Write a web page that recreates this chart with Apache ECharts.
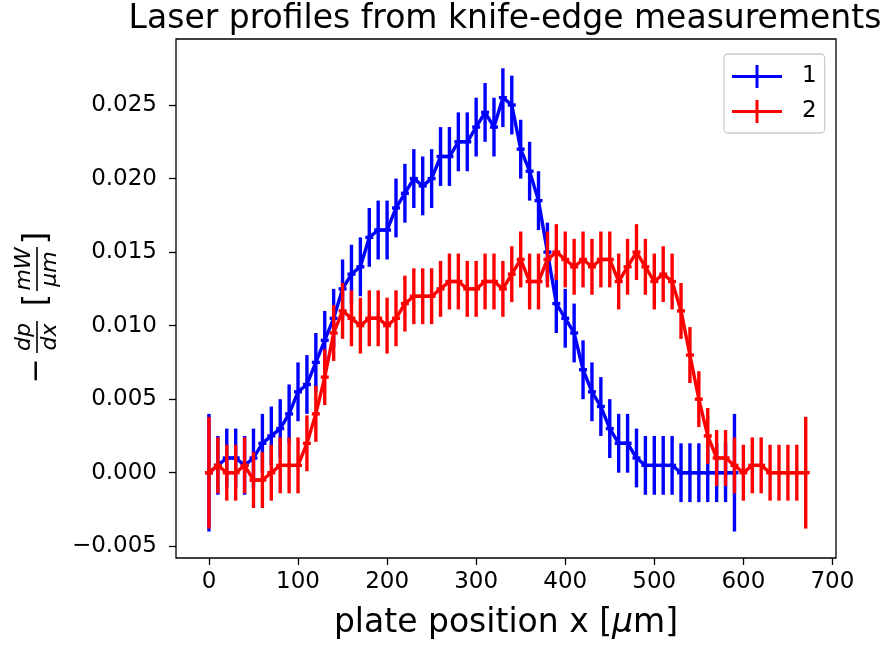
<!DOCTYPE html>
<html>
<head>
<meta charset="utf-8">
<script src="https://cdn.jsdelivr.net/npm/echarts@6/dist/echarts.min.js"></script>
<style>
html,body{margin:0;padding:0;background:#fff;}
#chart{width:887px;height:645px;}
</style>
</head>
<body>
<div id="chart"></div>
<script>
// ---- data ----
const xBlue = [0,10,20,30,40,50,60,70,80,90,100,110,120,130,140,150,160,170,180,190,200,210,220,230,240,250,260,270,280,290,300,310,320,330,340,350,360,370,380,390,400,410,420,430,440,450,460,470,480,490,500,510,520,530,540,550,560,570,580,590];
const yBlue = [0,0.0005,0.001,0.001,0.0005,0.001,0.002,0.0025,0.003,0.004,
  0.0055,0.006,0.0075,0.009,0.0105,0.0125,0.0135,0.014,0.016,0.0165,
  0.0165,0.018,0.019,0.020,0.0195,0.020,0.0215,0.0215,0.0225,0.0225,
  0.0235,0.0245,0.0235,0.0255,0.025,0.022,0.0205,0.0185,0.015,0.0115,
  0.0105,0.0095,0.007,0.0055,0.0045,0.003,0.002,0.002,0.001,0.0005,
  0.0005,0.0005,0.0005,0,0,0,0,0,0,0];
const eBlue = [0.004,0.002,0.002,0.002,0.002,0.002,0.002,0.002,0.002,0.002,
  0.002,0.002,0.002,0.002,0.002,0.002,0.002,0.002,0.002,0.002,
  0.002,0.002,0.002,0.002,0.002,0.002,0.002,0.002,0.002,0.002,
  0.002,0.002,0.002,0.002,0.002,0.002,0.002,0.002,0.002,0.002,
  0.002,0.002,0.002,0.002,0.002,0.002,0.002,0.002,0.002,0.002,
  0.002,0.002,0.002,0.002,0.002,0.002,0.002,0.002,0.002,0.004];
const xRed = [0,10,20,30,40,50,60,70,80,90,100,110,120,130,140,150,160,170,180,190,200,210,220,230,240,250,260,270,280,290,300,310,320,330,340,350,360,370,380,390,400,410,420,430,440,450,460,470,480,490,500,510,520,530,540,550,560,570,580,590,600,610,620,630,640,650,660,670];
const yRed = [0,0.0005,0,0,0.0005,-0.0005,-0.0005,0,0.0005,0.0005,
  0.0005,0.002,0.004,0.0065,0.0095,0.011,0.0105,0.010,0.0105,0.0105,
  0.010,0.0105,0.0115,0.012,0.012,0.012,0.0125,0.013,0.013,0.0125,
  0.0125,0.013,0.013,0.0125,0.0135,0.0145,0.013,0.013,0.0145,0.015,
  0.0145,0.014,0.0145,0.014,0.0145,0.0145,0.013,0.014,0.015,0.014,
  0.013,0.0135,0.013,0.011,0.008,0.005,0.0025,0.001,0.001,0.0005,
  0,0.0005,0.0005,0,0,0,0,0];
const eRed = [0.0038,0.0019,0.0019,0.0019,0.0019,0.0019,0.0019,0.0019,0.0019,0.0019,
  0.0019,0.0019,0.0019,0.0019,0.0019,0.0019,0.0019,0.0019,0.0019,0.0019,
  0.0019,0.0019,0.0019,0.0019,0.0019,0.0019,0.0019,0.0019,0.0019,0.0019,
  0.0019,0.0019,0.0019,0.0019,0.0019,0.0019,0.0019,0.0019,0.0019,0.0019,
  0.0019,0.0019,0.0019,0.0019,0.0019,0.0019,0.0019,0.0019,0.0019,0.0019,
  0.0019,0.0019,0.0019,0.0019,0.0019,0.0019,0.0019,0.0019,0.0019,0.0019,
  0.0019,0.0019,0.0019,0.0019,0.0019,0.0019,0.0019,0.0038];
const xTicks = [0,100,200,300,400,500,600,700];
const yTicks = [-0.005,0,0.005,0.010,0.015,0.020,0.025];
const seriesNames = ['1','2'];
const titleText = 'Laser profiles from knife-edge measurements';

// ---- build ----
const FONT = 'DejaVu Sans';
const BLUE = '#0000ff', RED = '#ff0000';
const LW = 3.4;
function pts(xs, ys){ return xs.map((x,i)=>[x, ys[i]]); }
function errPts(xs, ys, es){ return xs.map((x,i)=>[x, ys[i], es[i]]); }
function errRenderer(color){
  return function(params, api){
    const x = api.value(0), y = api.value(1), e = api.value(2);
    const t = api.coord([x, y+e]), b = api.coord([x, y-e]), c = api.coord([x, y]);
    return {type:'group', children:[
      {type:'line', shape:{x1:t[0],y1:t[1],x2:b[0],y2:b[1]}, style:{stroke:color, lineWidth:LW}},
      {type:'line', shape:{x1:c[0]-4,y1:c[1],x2:c[0]+4,y2:c[1]}, style:{stroke:color, lineWidth:LW}}
    ]};
  };
}
const plusIcon = 'path://M0,10 L50,10 L50,13 L0,13 Z M23.5,0 L26.5,0 L26.5,23 L23.5,23 Z';

const chart = echarts.init(document.getElementById('chart'), null, {renderer:'canvas'});
const option = {
  animation:false,
  backgroundColor:'#ffffff',
  title:{text:titleText, left:500, textAlign:'center', top:-2,
    textStyle:{fontFamily:FONT, fontSize:33, fontWeight:'normal', color:'#000'}},
  grid:{left:176, right:51, top:39, bottom:83, show:true, borderColor:'#000', borderWidth:1.3, backgroundColor:'transparent'},
  legend:{orient:'vertical', left:724, top:54, padding:[11,8,10,8], itemGap:12,
    itemWidth:50, itemHeight:23,
    backgroundColor:'rgba(255,255,255,0.8)', borderColor:'#cccccc', borderWidth:1.3, borderRadius:4,
    textStyle:{fontFamily:FONT, fontSize:23, color:'#000', padding:[0,0,0,15]},
    itemStyle:{borderWidth:0},
    data:[{name:seriesNames[0], icon:plusIcon},{name:seriesNames[1], icon:plusIcon}]},
  xAxis:{type:'value', min:-37, max:704,
    axisLine:{show:false, onZero:false},
    splitLine:{show:false},
    axisTick:{show:true, inside:false, length:7, lineStyle:{color:'#000', width:1.3}, customValues:xTicks},
    axisLabel:{show:true, margin:13, fontFamily:FONT, fontSize:23, color:'#000', customValues:xTicks,
      formatter:v=>String(Math.round(v))},
    name:'plate position x [{i|μ}m]', nameLocation:'middle', nameGap:49,
    nameTextStyle:{fontFamily:FONT, fontSize:33, color:'#000',
      rich:{i:{fontFamily:FONT, fontSize:33, fontStyle:'italic', color:'#000'}}}},
  yAxis:{type:'value', min:-0.0058, max:0.02949,
    axisLine:{show:false, onZero:false},
    splitLine:{show:false},
    axisTick:{show:true, inside:false, length:7, lineStyle:{color:'#000', width:1.3}, customValues:yTicks},
    axisLabel:{show:true, margin:19, fontFamily:FONT, fontSize:23, color:'#000', customValues:yTicks,
      formatter:v=>(v < -1e-9 ? '\u2212' : '') + Math.abs(v).toFixed(3)}},
  graphic:[{type:'group', x:37, y:305, rotation:Math.PI/2, silent:true, children:[
    {type:'text', x:-66, y:0, style:{text:'\u2212', fontFamily:FONT, fontSize:30, fill:'#000', align:'center', verticalAlign:'middle'}},
    {type:'text', x:-32, y:-2, style:{text:'dp', fontFamily:FONT, fontSize:22, fontStyle:'italic', fill:'#000', align:'center', verticalAlign:'bottom'}},
    {type:'rect', shape:{x:-48, y:-0.8, width:32, height:1.6}, style:{fill:'#000'}},
    {type:'text', x:-32, y:2, style:{text:'dx', fontFamily:FONT, fontSize:22, fontStyle:'italic', fill:'#000', align:'center', verticalAlign:'top'}},
    {type:'text', x:5, y:0, style:{text:'[', fontFamily:FONT, fontSize:32, fill:'#000', align:'center', verticalAlign:'middle'}},
    {type:'text', x:36, y:-2, style:{text:'mW', fontFamily:FONT, fontSize:22, fontStyle:'italic', fill:'#000', align:'center', verticalAlign:'bottom'}},
    {type:'rect', shape:{x:14, y:-0.8, width:44, height:1.6}, style:{fill:'#000'}},
    {type:'text', x:36, y:2, style:{text:'μm', fontFamily:FONT, fontSize:22, fontStyle:'italic', fill:'#000', align:'center', verticalAlign:'top'}},
    {type:'text', x:67, y:0, style:{text:']', fontFamily:FONT, fontSize:32, fill:'#000', align:'center', verticalAlign:'middle'}}
  ]}],
  series:[
    {type:'custom', name:'err1', z:2, renderItem:errRenderer(BLUE), data:errPts(xBlue,yBlue,eBlue), clip:true},
    {type:'line', name:seriesNames[0], z:3, data:pts(xBlue,yBlue), symbol:'none', color:BLUE,
      itemStyle:{color:BLUE}, lineStyle:{color:BLUE, width:LW}},
    {type:'custom', name:'err2', z:4, renderItem:errRenderer(RED), data:errPts(xRed,yRed,eRed), clip:true},
    {type:'line', name:seriesNames[1], z:5, data:pts(xRed,yRed), symbol:'none', color:RED,
      itemStyle:{color:RED}, lineStyle:{color:RED, width:LW}}
  ]
};
chart.setOption(option);
</script>
</body>
</html>
